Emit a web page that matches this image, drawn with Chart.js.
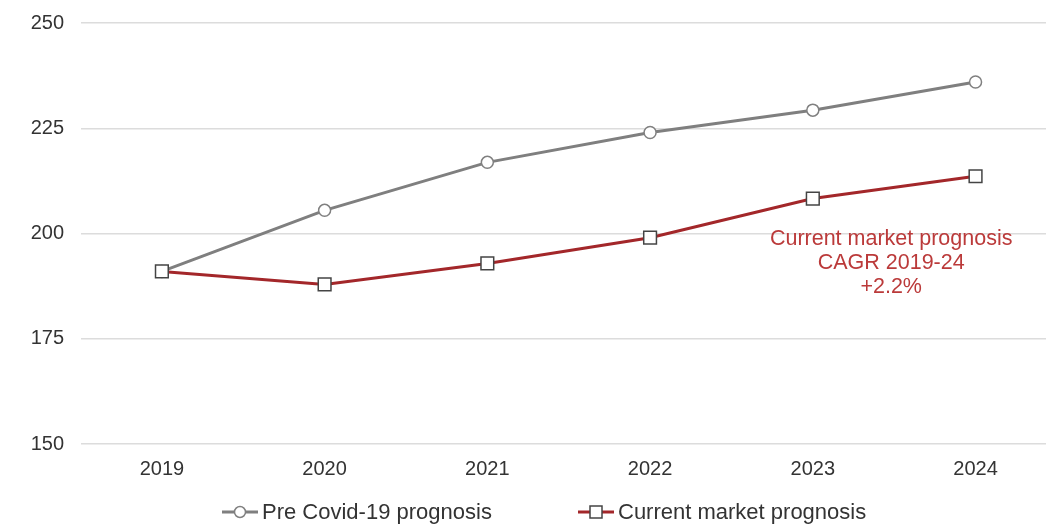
<!DOCTYPE html>
<html>
<head>
<meta charset="utf-8">
<script src="https://cdn.jsdelivr.net/npm/chart.js@4.4.1/dist/chart.umd.min.js"></script>
<style>
  html, body { margin: 0; padding: 0; background: #ffffff; overflow: hidden; }
  #wrap { position: relative; width: 1057px; height: 525px; }
</style>
</head>
<body>
<div id="wrap"><canvas id="c"></canvas></div>
<script>
const categories = ['2019', '2020', '2021', '2022', '2023', '2024'];
const preCovid = [191.0, 205.5, 216.9, 224.0, 229.3, 236.0];
const current = [191.0, 187.9, 192.9, 199.0, 208.3, 213.6];
const yTicks = [150, 175, 200, 225, 250];
const seriesLabels = ['Pre Covid-19 prognosis', 'Current market prognosis'];
const annotationLines = ['Current market prognosis', 'CAGR 2019-24', '+2.2%'];

const FONT = "'Liberation Sans', Arial, sans-serif";
const GRAY = '#7f7f7f';
const RED = '#a3272a';

const toPoints = (vals) => categories.map((c, i) => ({ x: Number(c), y: vals[i] }));

const legendPlugin = {
  id: 'customLegend',
  afterDraw(chart) {
    const ctx = chart.ctx;
    const items = chart.data.datasets;
    const y = 512;
    const starts = [222, 578];
    ctx.save();
    items.forEach((ds, i) => {
      const x0 = starts[i];
      ctx.strokeStyle = ds.borderColor;
      ctx.lineWidth = 3;
      ctx.beginPath();
      ctx.moveTo(x0, y);
      ctx.lineTo(x0 + 36, y);
      ctx.stroke();
      ctx.fillStyle = '#ffffff';
      ctx.strokeStyle = ds.pointBorderColor;
      ctx.lineWidth = 1.5;
      if (ds.pointStyle === 'rect') {
        ctx.fillRect(x0 + 12, y - 6, 12, 12);
        ctx.strokeRect(x0 + 12, y - 6, 12, 12);
      } else {
        ctx.beginPath();
        ctx.arc(x0 + 18, y, 5.5, 0, Math.PI * 2);
        ctx.fill();
        ctx.stroke();
      }
      ctx.fillStyle = '#333333';
      ctx.font = '22px ' + FONT;
      ctx.textAlign = 'left';
      ctx.textBaseline = 'middle';
      ctx.fillText(ds.label, x0 + 40, y + 1);
    });
    ctx.restore();
  }
};

const annotationPlugin = {
  id: 'cagrNote',
  afterDatasetsDraw(chart) {
    const ctx = chart.ctx;
    const xs = chart.scales.x, ys = chart.scales.y;
    const cx = (xs.getPixelForValue(Number(categories[4])) + xs.getPixelForValue(Number(categories[5]))) / 2 - 3;
    ctx.save();
    ctx.fillStyle = '#bb3a3a';
    ctx.font = '21.5px ' + FONT;
    ctx.textAlign = 'center';
    ctx.textBaseline = 'middle';
    const y0 = ys.getPixelForValue(198.7);
    annotationLines.forEach((t, i) => ctx.fillText(t, cx, y0 + i * 24));
    ctx.restore();
  }
};

new Chart(document.getElementById('c'), {
  type: 'line',
  data: {
    datasets: [
      {
        label: seriesLabels[0],
        data: toPoints(preCovid),
        borderColor: GRAY,
        borderWidth: 3,
        pointStyle: 'circle',
        pointRadius: 6,
        pointBackgroundColor: '#ffffff',
        pointBorderColor: '#808080',
        pointBorderWidth: 1.5,
        tension: 0,
        order: 2
      },
      {
        label: seriesLabels[1],
        data: toPoints(current),
        borderColor: RED,
        borderWidth: 3,
        pointStyle: 'rect',
        pointRadius: 9,
        pointBackgroundColor: '#ffffff',
        pointBorderColor: '#444444',
        pointBorderWidth: 1.5,
        tension: 0,
        order: 1
      }
    ]
  },
  options: {
    responsive: true,
    maintainAspectRatio: false,
    animation: false,
    layout: { padding: { top: 23, right: 0, bottom: 31, left: 0 } },
    plugins: { legend: { display: false }, tooltip: { enabled: false } },
    scales: {
      x: {
        type: 'linear',
        min: 2018.503,
        max: 2024.436,
        afterBuildTicks(scale) { scale.ticks = categories.map(c => ({ value: Number(c) })); },
        grid: { display: false, drawTicks: false },
        border: { display: false },
        ticks: {
          color: '#333333', font: { family: FONT, size: 20 }, padding: 13,
          callback: (v) => categories.find(c => Number(c) === v) || ''
        }
      },
      y: {
        min: 150, max: 250,
        afterBuildTicks(scale) { scale.ticks = yTicks.map(v => ({ value: v })); },
        afterFit(scale) { scale.width = 81; scale.paddingTop = 0; },
        grid: { color: '#dcdcdc', lineWidth: 1.5, drawTicks: false },
        border: { display: false },
        ticks: { color: '#333333', font: { family: FONT, size: 20 }, padding: 17 }
      }
    }
  },
  plugins: [legendPlugin, annotationPlugin]
});
</script>
</body>
</html>
